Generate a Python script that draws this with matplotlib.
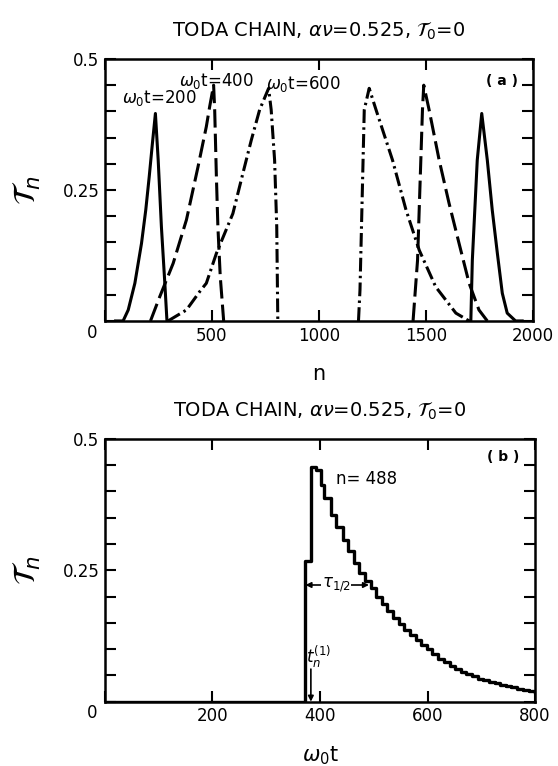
import matplotlib
matplotlib.use('Agg')
from matplotlib import pyplot as plt

# ---- panel (a): profiles tau_n vs n at three times ----
n_200_left = [50, 85, 109, 140, 171, 191, 207, 222, 236, 249, 264, 280, 290, 300]
tau_200_left = [0, 0, 0.021, 0.072, 0.148, 0.212, 0.275, 0.339, 0.396, 0.307, 0.180, 0.072, 0, 0]
n_200_right = [1700, 1710, 1717, 1740, 1761, 1787, 1810, 1834, 1857, 1880, 1919, 1950]
tau_200_right = [0, 0, 0.116, 0.307, 0.396, 0.307, 0.212, 0.129, 0.053, 0.015, 0, 0]

n_400_left = [213, 256, 319, 381, 435, 474, 490, 508, 513, 521, 528, 539, 555]
tau_400_left = [0, 0.046, 0.110, 0.193, 0.294, 0.371, 0.410, 0.450, 0.403, 0.275, 0.180, 0.085, 0]
n_400_right = [1440, 1461, 1484, 1490, 1515, 1562, 1608, 1655, 1702, 1748, 1787]
tau_400_right = [0, 0.116, 0.403, 0.450, 0.403, 0.307, 0.225, 0.148, 0.072, 0.021, 0]

n_600_left = [295, 381, 443, 474, 521, 598, 645, 684, 723, 765, 777, 793, 803, 808]
tau_600_left = [0, 0.021, 0.056, 0.072, 0.129, 0.205, 0.282, 0.345, 0.403, 0.444, 0.403, 0.307, 0.180, 0]
n_600_right = [1185, 1192, 1212, 1235, 1267, 1344, 1407, 1469, 1546, 1640, 1702]
tau_600_right = [0, 0.059, 0.403, 0.444, 0.403, 0.307, 0.212, 0.135, 0.065, 0.015, 0]

# ---- panel (b): tau_n vs time at n = 488 ----
t_steps = [0, 373, 384, 393, 401, 407, 420, 429, 442, 452, 463, 473, 483, 494,
           504, 515, 525, 536, 546, 557, 567, 578, 588, 599, 609, 620, 630, 641,
           651, 662, 672, 683, 693, 704, 714, 725, 735, 746, 756, 767, 777, 788, 800]
tau_steps = [0, 0.268, 0.447, 0.441, 0.412, 0.387, 0.356, 0.333, 0.308, 0.286, 0.264, 0.245, 0.230, 0.216,
             0.200, 0.186, 0.173, 0.160, 0.148, 0.137, 0.127, 0.117, 0.108, 0.100, 0.090, 0.082, 0.075, 0.068,
             0.062, 0.057, 0.052, 0.048, 0.044, 0.041, 0.038, 0.035, 0.032, 0.030, 0.027, 0.025, 0.022, 0.020, 0.018]

title = r'TODA CHAIN, $\alpha\nu$=0.525, $\mathcal{T}_0$=0'

plt.rcParams['font.family'] = 'DejaVu Sans'
plt.rcParams['mathtext.fontset'] = 'dejavusans'

fig = plt.figure(figsize=(5.58, 7.66), dpi=100)
ax1 = fig.add_axes([0.188, 0.581, 0.767, 0.342])
ax2 = fig.add_axes([0.188, 0.084, 0.771, 0.343])

lw = 2.2
ax1.plot(n_200_left, tau_200_left, color='black', lw=lw)
ax1.plot(n_200_right, tau_200_right, color='black', lw=lw)
ax1.plot(n_400_left, tau_400_left, color='black', lw=lw, dashes=(6, 2))
ax1.plot(n_400_right, tau_400_right, color='black', lw=lw, dashes=(6, 2))
ax1.plot(n_600_left, tau_600_left, color='black', lw=lw, dashes=(4.5, 1.4, 0.8, 1.4))
ax1.plot(n_600_right, tau_600_right, color='black', lw=lw, dashes=(4.5, 1.4, 0.8, 1.4))

ax1.set_xlim(0, 2000)
ax1.set_ylim(0, 0.5)
ax1.set_xticks([0, 500, 1000, 1500, 2000])
ax1.set_xticklabels(['', '500', '1000', '1500', '2000'])
ax1.text(257, 0.426, r'$\omega_0$t=200', ha='center', va='center', fontsize=12)
ax1.text(523, 0.458, r'$\omega_0$t=400', ha='center', va='center', fontsize=12)
ax1.text(930, 0.452, r'$\omega_0$t=600', ha='center', va='center', fontsize=12)
ax1.text(1855, 0.458, '( a )', ha='center', va='center', fontsize=10, fontweight='bold')
ax1.set_xlabel('n', fontsize=15, labelpad=14)
ax1.set_title(title, fontsize=14, pad=16)

ax2.step(t_steps, tau_steps, where='post', color='black', lw=2.4)
ax2.set_xlim(0, 800)
ax2.set_ylim(0, 0.5)
ax2.set_xticks([0, 200, 400, 600, 800])
ax2.set_xticklabels(['', '200', '400', '600', '800'])
ax2.text(487, 0.424, 'n= 488', ha='center', va='center', fontsize=12)
ax2.text(740, 0.466, '( b )', ha='center', va='center', fontsize=10, fontweight='bold')
ax2.annotate('', xy=(373, 0.222), xytext=(491, 0.222),
             arrowprops=dict(arrowstyle='<|-|>', color='black', lw=1.2,
                             mutation_scale=8, shrinkA=0, shrinkB=0))
ax2.text(430, 0.222, r'$\tau_{1/2}$', ha='center', va='center', fontsize=12,
         bbox=dict(facecolor='white', edgecolor='none', pad=0.5))
ax2.annotate('', xy=(383, 0.0), xytext=(383, 0.062),
             arrowprops=dict(arrowstyle='-|>', color='black', lw=1.2,
                             mutation_scale=8, shrinkA=0, shrinkB=0))
ax2.text(397, 0.086, r'$t_n^{(1)}$', ha='center', va='center', fontsize=12)
ax2.set_xlabel(r'$\omega_0$t', fontsize=15, labelpad=14)
ax2.set_title(title, fontsize=14, pad=16)

for ax in (ax1, ax2):
    ax.set_yticks([0, 0.25, 0.5])
    ax.set_yticklabels(['', '0.25', '0.5'])
    ax.set_yticks([0.05, 0.1, 0.15, 0.2, 0.3, 0.35, 0.4, 0.45], minor=True)
    ax.tick_params(which='both', direction='in', top=True, right=True,
                   length=8, width=1.5, labelsize=12, pad=4)
    for s in ax.spines.values():
        s.set_linewidth(1.8)
    ax.text(-0.03, -0.045, '0', transform=ax.transAxes, ha='center', va='center', fontsize=12)
    ax.set_ylabel(r'$\mathcal{T}_n$', fontsize=22, rotation=90, labelpad=14)

fig.savefig('out.png', dpi=100)
